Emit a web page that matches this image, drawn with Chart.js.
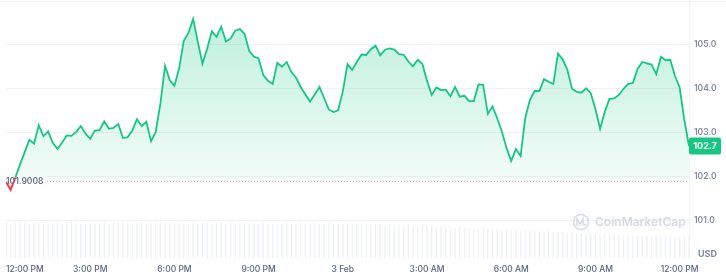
<!DOCTYPE html>
<html>
<head>
<meta charset="utf-8">
<script src="https://cdn.jsdelivr.net/npm/chart.js@4/dist/chart.umd.min.js"></script>
<style>
  html, body { margin: 0; padding: 0; background: #fff; }
  #price-chart { display: block; }
</style>
</head>
<body>
<canvas id="price-chart" width="726" height="277"></canvas>
<script>
// Price every 10 minutes, starting 12:00 PM (2 Feb)
const prices = [
  101.88, 101.70, 101.98, 102.28, 102.56, 102.84, 102.75, 103.17, 102.92, 103.03,
  102.77, 102.63, 102.78, 102.94, 102.93, 103.02, 103.15, 102.98, 102.86, 103.05,
  103.06, 103.26, 103.09, 103.11, 103.20, 102.88, 102.90, 103.05, 103.31, 103.15,
  103.25, 102.81, 103.02, 103.66, 104.52, 104.20, 104.07, 104.46, 105.09, 105.27,
  105.59, 105.07, 104.57, 104.91, 105.31, 105.18, 105.41, 105.08, 105.14, 105.32,
  105.36, 105.25, 104.86, 104.73, 104.69, 104.31, 104.18, 104.11, 104.59, 104.50,
  104.61, 104.38, 104.25, 104.04, 103.87, 103.71, 103.87, 104.04, 103.79, 103.53,
  103.47, 103.51, 103.94, 104.56, 104.43, 104.61, 104.78, 104.77, 104.90, 104.98,
  104.76, 104.89, 104.92, 104.89, 104.79, 104.77, 104.62, 104.51, 104.66, 104.57,
  104.18, 103.86, 104.03, 103.97, 103.98, 103.83, 104.04, 103.82, 103.84, 103.72,
  103.72, 104.10, 104.09, 103.43, 103.60, 103.33, 103.03, 102.65, 102.36, 102.63,
  102.47, 103.34, 103.75, 103.95, 103.95, 104.22, 104.16, 104.11, 104.80, 104.67,
  104.43, 104.00, 103.93, 103.91, 104.01, 103.90, 103.54, 103.09, 103.48, 103.77,
  103.78, 103.86, 104.00, 104.11, 104.13, 104.45, 104.61, 104.58, 104.55, 104.33,
  104.73, 104.65, 104.66, 104.29, 104.03, 103.29, 102.70
];

// Volume (millions) for the same intervals
const volumes = [
  3.5, 3.4, 3.5, 3.6, 3.5, 3.4, 3.5, 3.5, 3.6, 3.4, 3.5, 3.5, 3.4, 3.5, 3.6, 3.5, 3.4, 3.5, 3.5, 3.4, 3.5,
  3.5, 3.4, 3.5, 3.5, 3.6, 3.5, 3.4, 3.5, 3.5, 3.4, 3.5, 3.5, 3.6, 3.5, 3.4, 3.5, 3.5, 3.4, 3.5, 3.5, 3.4,
  3.5, 3.5, 3.4, 3.5, 3.5, 3.4, 3.5, 3.4, 3.5, 3.5, 3.4, 3.5, 3.4, 3.5, 3.5, 3.4, 3.5, 3.4, 3.5, 3.4, 3.4,
  3.5, 3.4, 3.4, 3.5, 3.4, 3.4, 3.5, 3.4, 3.4, 3.4, 3.5, 3.4, 3.4, 3.4, 3.4, 3.3, 3.4, 3.4, 3.3, 3.4, 3.3,
  3.3, 3.2, 3.3, 3.2, 3.2, 3.3, 3.2, 3.2, 3.1, 3.2, 3.1, 3.1, 3.0, 3.1, 3.0, 3.0, 3.0, 2.9, 3.0, 2.9, 2.9,
  2.9, 2.8, 2.9, 2.8, 2.8, 2.7, 2.8, 2.7, 2.7, 2.7, 2.6, 2.7, 2.6, 2.6, 2.6, 2.5, 2.6, 2.5, 2.5, 2.5, 2.4,
  2.4, 2.3, 2.4, 2.3, 2.3, 2.3, 2.2, 2.3, 2.2, 2.2, 2.2, 2.2, 2.1, 2.2, 2.2, 2.1, 2.2, 2.1, 2.1, 2.2, 2.1
];

const stepMinutes = 10;
const times = prices.map((_, i) => i * stepMinutes / 60); // hours since 12:00 PM

// Tick labels (hours since 12:00 PM)
const tickHours = [0, 3, 6, 9, 12, 15, 18, 21, 24];
const tickLabels = ['12:00 PM', '3:00 PM', '6:00 PM', '9:00 PM', '3 Feb', '3:00 AM', '6:00 AM', '9:00 AM', '12:00 PM'];
const priceTicks = [101, 102, 103, 104, 105];

const openPrice = 101.9008;
const lastPrice = 102.7;

const green = '#16c784';
const red = '#ea3943';
const axisGrey = '#808a9d';
const lineGrey = '#eff2f5';
const fontFamily = 'Inter, "Noto Sans", sans-serif';

// Extra drawing: watermark, open price line, last price tag, USD label
const overlayPlugin = {
  id: 'overlay',
  beforeDatasetsDraw(chart) {
    const { ctx, chartArea, scales } = chart;
    ctx.save();
    // top border
    ctx.strokeStyle = lineGrey;
    ctx.lineWidth = 1;
    ctx.beginPath();
    ctx.moveTo(0, 1.5);
    ctx.lineTo(chart.width, 1.5);
    ctx.stroke();

    // CoinMarketCap watermark
    ctx.strokeStyle = '#d5dae3';
    ctx.lineWidth = 1.6;
    ctx.beginPath();
    ctx.arc(581, 222, 7.5, 0, Math.PI * 2);
    ctx.stroke();
    ctx.beginPath();
    ctx.moveTo(577, 226);
    ctx.lineTo(577, 219);
    ctx.lineTo(580, 224);
    ctx.lineTo(583, 219);
    ctx.lineTo(583, 224);
    ctx.quadraticCurveTo(584, 226, 586, 224);
    ctx.stroke();
    ctx.fillStyle = '#d5dae3';
    ctx.font = '600 12px ' + fontFamily;
    ctx.textBaseline = 'middle';
    ctx.textAlign = 'left';
    ctx.fillText('CoinMarketCap', 595, 222);

    // dotted open price line
    const y = scales.y.getPixelForValue(openPrice);
    ctx.strokeStyle = 'rgba(234,57,67,0.45)';
    ctx.lineWidth = 1;
    ctx.setLineDash([1, 2]);
    ctx.beginPath();
    ctx.moveTo(44, Math.round(y) + 0.5);
    ctx.lineTo(chartArea.right, Math.round(y) + 0.5);
    ctx.stroke();
    ctx.setLineDash([]);

    // open price label box (under the line)
    ctx.font = '600 8.5px ' + fontFamily;
    const w = ctx.measureText(openPrice.toFixed(4)).width;
    ctx.fillStyle = '#fff';
    ctx.fillRect(4, y - 6, w + 4, 12);
    ctx.restore();
  },
  afterDatasetsDraw(chart) {
    const { ctx, chartArea, scales } = chart;
    ctx.save();
    ctx.textBaseline = 'middle';

    // open price label
    const y = scales.y.getPixelForValue(openPrice);
    ctx.font = '600 8.5px ' + fontFamily;
    ctx.fillStyle = '#6b7487';
    ctx.textAlign = 'left';
    ctx.fillText(openPrice.toFixed(4), 6, y + 0.5);

    // last price tag
    const yl = scales.y.getPixelForValue(lastPrice);
    ctx.fillStyle = green;
    ctx.beginPath();
    ctx.roundRect(chartArea.right, yl - 8.5, 32, 17, 2);
    ctx.fill();
    ctx.fillStyle = '#fff';
    ctx.font = '700 9px ' + fontFamily;
    ctx.textAlign = 'center';
    ctx.fillText(lastPrice.toFixed(1), chartArea.right + 16, yl + 0.5);

    // currency label
    ctx.fillStyle = axisGrey;
    ctx.font = '700 9px ' + fontFamily;
    ctx.textAlign = 'left';
    ctx.fillText('USD', chartArea.right + 9, chartArea.bottom - 4);
    ctx.restore();
  }
};

function fillGradient(context) {
  const { chart } = context;
  const { ctx, chartArea, scales } = chart;
  if (!chartArea) return null;
  const yb = scales.y.getPixelForValue(openPrice);
  const f = (yb - chartArea.top) / (chartArea.bottom - chartArea.top);
  const g = ctx.createLinearGradient(0, chartArea.top, 0, chartArea.bottom);
  g.addColorStop(0, 'rgba(22,199,132,0.30)');
  g.addColorStop(f, 'rgba(22,199,132,0.05)');
  g.addColorStop(Math.min(1, f + 0.001), 'rgba(234,57,67,0.12)');
  g.addColorStop(1, 'rgba(234,57,67,0.04)');
  return g;
}

const ctx = document.getElementById('price-chart').getContext('2d');
const priceChart = new Chart(ctx, {
  type: 'line',
  data: {
    datasets: [
      {
        type: 'line',
        label: 'Price',
        data: prices.map((p, i) => ({ x: times[i], y: p })),
        yAxisID: 'y',
        borderColor: green,
        borderWidth: 1.8,
        pointRadius: 0,
        tension: 0,
        fill: { target: { value: openPrice } },
        backgroundColor: fillGradient,
        segment: {
          borderColor: c => (c.p0.parsed.y < openPrice || c.p1.parsed.y < openPrice) ? red : green
        },
        order: 0
      },
      {
        type: 'bar',
        label: 'Volume',
        data: volumes.map((v, i) => ({ x: times[i], y: v })),
        yAxisID: 'yv',
        backgroundColor: 'rgba(200,206,218,0.28)',
        barPercentage: 0.3,
        categoryPercentage: 1,
        order: 1
      }
    ]
  },
  options: {
    responsive: false,
    animation: false,
    layout: { padding: 0 },
    plugins: {
      legend: { display: false },
      tooltip: { enabled: false }
    },
    scales: {
      x: {
        type: 'linear',
        offset: false,
        min: 0,
        max: times[times.length - 1],
        grid: { display: false, drawTicks: false },
        border: { display: false },
        afterBuildTicks: scale => {
          scale.ticks = tickHours.concat([scale.max]).map(v => ({ value: v }));
        },
        afterFit: scale => { scale.height = 19; },
        ticks: {
          autoSkip: false,
          maxRotation: 0,
          align: 'inner',
          padding: 6,
          color: '#58667e',
          font: { family: fontFamily, size: 8.5, weight: '500' },
          callback: value => {
            const k = tickHours.indexOf(value);
            return k >= 0 ? tickLabels[k] : '';
          }
        }
      },
      y: {
        type: 'linear',
        position: 'right',
        min: 100.15,
        max: 106.02,
        afterBuildTicks: scale => {
          scale.ticks = priceTicks.map(v => ({ value: v }));
        },
        afterFit: scale => {
          scale.width = 37;
          scale.paddingTop = 0;
          scale.paddingBottom = 0;
        },
        grid: { color: lineGrey, drawTicks: false },
        border: { display: true, color: lineGrey },
        ticks: {
          padding: 5,
          color: axisGrey,
          font: { family: fontFamily, size: 8.5, weight: '600' },
          callback: value => value.toFixed(1)
        }
      },
      yv: {
        type: 'linear',
        display: false,
        min: 0,
        max: 25.7
      }
    }
  },
  plugins: [overlayPlugin]
});
</script>
</body>
</html>
